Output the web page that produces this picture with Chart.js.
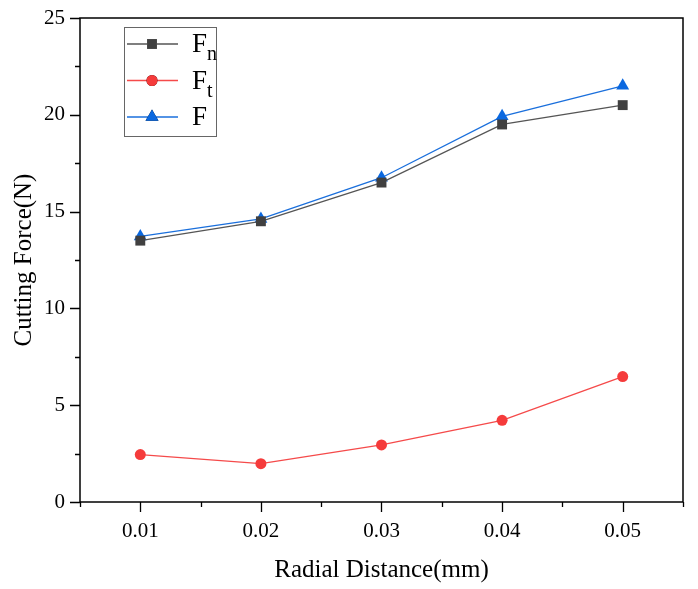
<!DOCTYPE html>
<html>
<head>
<meta charset="utf-8">
<script src="https://cdn.jsdelivr.net/npm/chart.js@4.4.1/dist/chart.umd.min.js"></script>
<style>
  html, body { margin: 0; padding: 0; background: #fff; }
  #wrap { width: 698px; height: 589px; }
</style>
</head>
<body>
<div id="wrap"><canvas id="graph" width="698" height="589"></canvas></div>
<script>
const radialDistance = [0.01, 0.02, 0.03, 0.04, 0.05];
const forceNormal = [13.5, 14.5, 16.5, 19.5, 20.5];
const forceTangential = [2.45, 1.98, 2.95, 4.22, 6.48];
const forceTotal = [13.72, 14.62, 16.75, 19.92, 21.5];

const xTicks = [0.01, 0.02, 0.03, 0.04, 0.05];
const yTicks = [0, 5, 10, 15, 20, 25];

const FONT = '"Liberation Serif", "Times New Roman", serif';

function pts(values) {
    return radialDistance.map((x, i) => ({ x: x, y: values[i] }));
}

// frame, outward ticks (major + minor) drawn on top of the scales
const frameTicks = {
    id: 'frameTicks',
    afterDraw(chart) {
        const { ctx, chartArea: a, scales } = chart;
        ctx.save();
        ctx.strokeStyle = '#000';
        ctx.lineWidth = 1.5;
        ctx.strokeRect(a.left, a.top, a.right - a.left, a.bottom - a.top);
        ctx.lineWidth = 1.3;
        ctx.beginPath();
        for (let v = 0; v <= 25; v += 2.5) {
            const y = Math.round(scales.y.getPixelForValue(v)) + 0.5;
            const len = (v % 5 === 0) ? 10 : 5;
            ctx.moveTo(a.left, y);
            ctx.lineTo(a.left - len, y);
        }
        for (let k = 1; k <= 11; k++) {
            const v = k * 0.005;
            const x = Math.round(scales.x.getPixelForValue(v)) + 0.5;
            const len = (k % 2 === 0) ? 10 : 5;
            ctx.moveTo(x, a.bottom);
            ctx.lineTo(x, a.bottom + len);
        }
        ctx.stroke();
        ctx.restore();
    }
};

// legend box inside the plot, with subscripts
const insideLegend = {
    id: 'insideLegend',
    afterDatasetsDraw(chart) {
        const { ctx, chartArea: a } = chart;
        const left = a.left + 44, top = a.top + 9, w = 92, h = 109;
        ctx.save();
        ctx.fillStyle = '#fff';
        ctx.fillRect(left, top, w, h);
        ctx.strokeStyle = '#666';
        ctx.lineWidth = 1;
        ctx.strokeRect(left + 0.5, top + 0.5, w, h);
        const subs = ['n', 't', ''];
        chart.data.datasets.forEach((ds, i) => {
            const cy = top + 17 + i * 36.5;
            ctx.strokeStyle = ds.borderColor;
            ctx.lineWidth = ds.borderWidth;
            ctx.beginPath();
            ctx.moveTo(left + 3, cy);
            ctx.lineTo(left + 54, cy);
            ctx.stroke();
            Chart.helpers.drawPoint(ctx, {
                pointStyle: ds.pointStyle,
                radius: ds.pointRadius,
                rotation: 0,
                borderWidth: 0
            }, left + 28, cy);
            ctx.fillStyle = ds.pointBackgroundColor;
            ctx.fill();
            ctx.fillStyle = '#000';
            ctx.textBaseline = 'middle';
            ctx.textAlign = 'left';
            ctx.font = '27px ' + FONT;
            ctx.fillText('F', left + 68, cy + 1);
            if (subs[i]) {
                ctx.font = '20px ' + FONT;
                ctx.fillText(subs[i], left + 83, cy + 11);
            }
        });
        ctx.restore();
    }
};

const ctx = document.getElementById('graph').getContext('2d');
new Chart(ctx, {
    type: 'line',
    data: {
        datasets: [
            {
                label: 'Fn',
                data: pts(forceNormal),
                borderColor: '#555555',
                backgroundColor: '#404040',
                pointBackgroundColor: '#404040',
                pointBorderWidth: 0,
                borderWidth: 1.3,
                pointStyle: 'rect',
                pointRadius: 7
            },
            {
                label: 'Ft',
                data: pts(forceTangential),
                borderColor: '#f54a4a',
                backgroundColor: '#f53b3b',
                pointBackgroundColor: '#f53b3b',
                pointBorderWidth: 0,
                borderWidth: 1.3,
                pointStyle: 'circle',
                pointRadius: 5.5
            },
            {
                label: 'F',
                data: pts(forceTotal),
                borderColor: '#1a6fdc',
                backgroundColor: '#0a68e0',
                pointBackgroundColor: '#0a68e0',
                pointBorderWidth: 0,
                borderWidth: 1.3,
                pointStyle: 'triangle',
                pointRadius: 7.5
            }
        ]
    },
    options: {
        responsive: false,
        animation: false,
        layout: { padding: { top: 0, right: 15, left: 0, bottom: 0 } },
        plugins: {
            legend: { display: false },
            tooltip: { enabled: false }
        },
        scales: {
            x: {
                type: 'linear',
                min: 0.005,
                max: 0.055,
                afterFit(s) { s.height = 87; },
                afterBuildTicks(s) { s.ticks = xTicks.map(v => ({ value: v })); },
                grid: { display: false, drawTicks: false },
                border: { display: false },
                ticks: {
                    color: '#000',
                    padding: 17,
                    font: { family: FONT, size: 21 },
                    callback: v => v.toFixed(2)
                },
                title: {
                    display: true,
                    text: 'Radial Distance(mm)',
                    color: '#000',
                    font: { family: FONT, size: 25 },
                    padding: { top: 10 }
                }
            },
            y: {
                type: 'linear',
                min: 0,
                max: 25,
                afterFit(s) { s.width = 80; s.paddingTop = 18; s.paddingBottom = 0; },
                afterBuildTicks(s) { s.ticks = yTicks.map(v => ({ value: v })); },
                grid: { display: false, drawTicks: false },
                border: { display: false },
                ticks: {
                    color: '#000',
                    padding: 15,
                    font: { family: FONT, size: 21 }
                },
                title: {
                    display: true,
                    text: 'Cutting Force(N)',
                    color: '#000',
                    font: { family: FONT, size: 25 },
                    padding: { top: 9, bottom: 0 }
                }
            }
        }
    },
    plugins: [frameTicks, insideLegend]
});
</script>
</body>
</html>
